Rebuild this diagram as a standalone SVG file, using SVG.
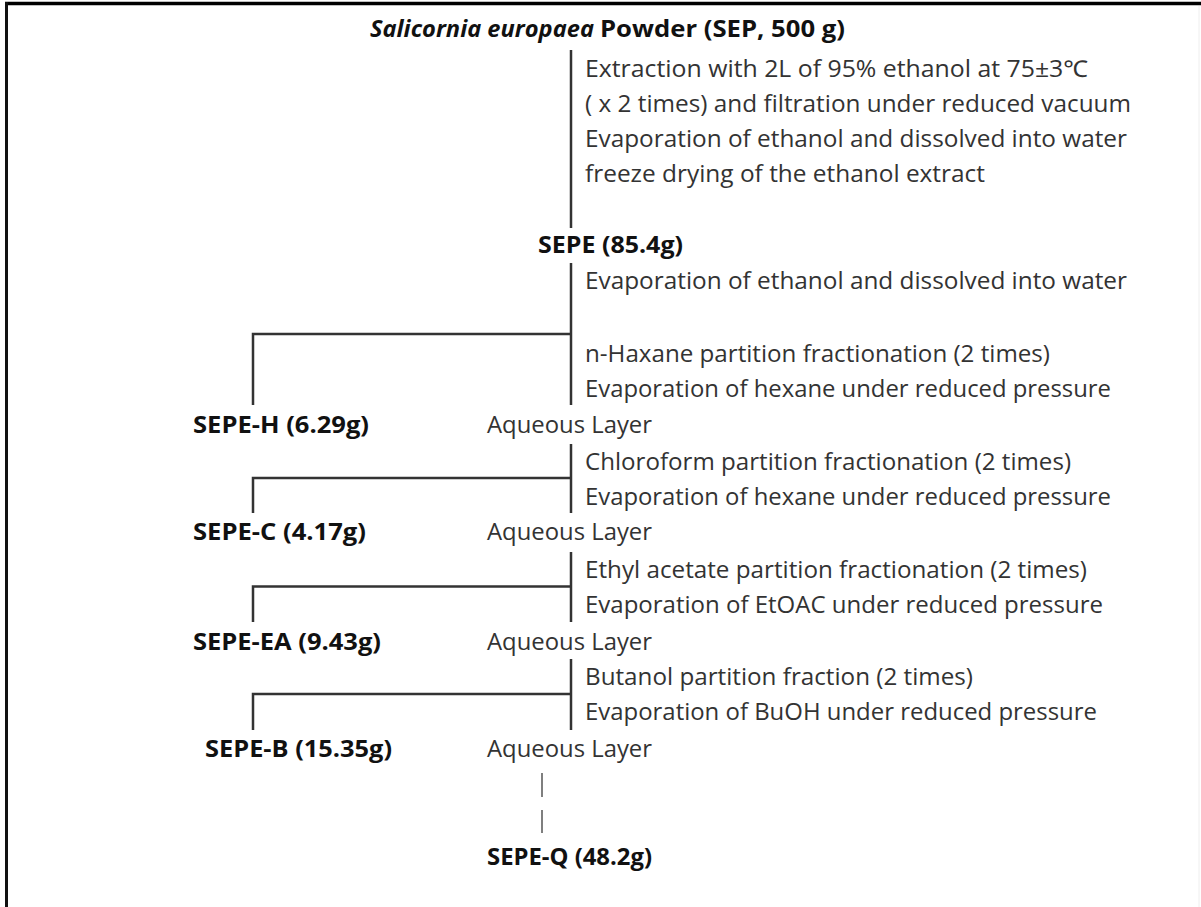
<svg xmlns="http://www.w3.org/2000/svg" width="1201" height="907" viewBox="0 0 1201 907">
<style>
  .t { font-family: "Open Sans", "Noto Sans", "Noto Sans CJK KR", sans-serif; font-size: 23px; fill: #333; }
  .b { font-family: "Open Sans", "Noto Sans", "Noto Sans CJK KR", sans-serif; font-size: 24px; font-weight: bold; fill: #111; }
  .ln { stroke: #333; stroke-width: 2.5; fill: none; }
  .dash { stroke: #555; stroke-width: 1.5; fill: none; }
</style>
<rect x="0" y="0" width="1201" height="907" fill="#fff"/>
<g id="frame">
  <line x1="5" y1="3.5" x2="1201" y2="3.5" stroke="#000" stroke-width="3.5"/>
  <line x1="6.5" y1="2" x2="6.5" y2="907" stroke="#111" stroke-width="3"/>
  <line x1="1199" y1="6" x2="1199" y2="907" stroke="#eee" stroke-width="1"/>
</g>
<g id="connectors">
  <line class="ln" x1="571" y1="50" x2="571" y2="228"/>
  <line class="ln" x1="571" y1="263" x2="571" y2="405"/>
  <path class="ln" d="M571 334 H253 V405"/>
  <line class="ln" x1="571" y1="444" x2="571" y2="513"/>
  <path class="ln" d="M571 478 H253 V513"/>
  <line class="ln" x1="571" y1="552" x2="571" y2="622"/>
  <path class="ln" d="M571 586.5 H253 V622"/>
  <line class="ln" x1="571" y1="659" x2="571" y2="730"/>
  <path class="ln" d="M571 694 H253 V730"/>
  <line class="dash" x1="542" y1="773" x2="542" y2="797"/>
  <line class="dash" x1="542" y1="810" x2="542" y2="833"/>
</g>
<g id="node-SEP">
  <text x="370" y="37" class="b" font-style="italic" textLength="224" lengthAdjust="spacingAndGlyphs">Salicornia europaea</text>
  <text x="600" y="37" class="b" textLength="245" lengthAdjust="spacingAndGlyphs">Powder (SEP, 500 g)</text>
</g>
<g id="step-extraction">
  <text x="585" y="77" class="t" textLength="503" lengthAdjust="spacingAndGlyphs">Extraction with 2L of 95% ethanol at 75±3℃</text>
  <text x="585" y="112" class="t" textLength="546" lengthAdjust="spacingAndGlyphs">( x 2 times) and filtration under reduced vacuum</text>
  <text x="585" y="147" class="t" textLength="542" lengthAdjust="spacingAndGlyphs">Evaporation of ethanol and dissolved into water</text>
  <text x="585" y="182" class="t" textLength="400" lengthAdjust="spacingAndGlyphs">freeze drying of the ethanol extract</text>
</g>
<g id="node-SEPE">
  <text x="538" y="253" class="b" textLength="145" lengthAdjust="spacingAndGlyphs">SEPE (85.4g)</text>
</g>
<g id="step-hexane">
  <text x="585" y="289" class="t" textLength="542" lengthAdjust="spacingAndGlyphs">Evaporation of ethanol and dissolved into water</text>
  <text x="585" y="362" class="t" textLength="465" lengthAdjust="spacingAndGlyphs">n-Haxane partition fractionation (2 times)</text>
  <text x="585" y="397" class="t" textLength="526" lengthAdjust="spacingAndGlyphs">Evaporation of hexane under reduced pressure</text>
</g>
<g id="node-SEPE-H">
  <text x="193" y="433" class="b" textLength="176" lengthAdjust="spacingAndGlyphs">SEPE-H (6.29g)</text>
</g>
<g id="node-aq1">
  <text x="487" y="433" class="t" textLength="165" lengthAdjust="spacingAndGlyphs">Aqueous Layer</text>
</g>
<g id="step-chloroform">
  <text x="585" y="470" class="t" textLength="486" lengthAdjust="spacingAndGlyphs">Chloroform partition fractionation (2 times)</text>
  <text x="585" y="505" class="t" textLength="526" lengthAdjust="spacingAndGlyphs">Evaporation of hexane under reduced pressure</text>
</g>
<g id="node-SEPE-C">
  <text x="193" y="540" class="b" textLength="173" lengthAdjust="spacingAndGlyphs">SEPE-C (4.17g)</text>
</g>
<g id="node-aq2">
  <text x="487" y="540" class="t" textLength="165" lengthAdjust="spacingAndGlyphs">Aqueous Layer</text>
</g>
<g id="step-ethylacetate">
  <text x="585" y="578" class="t" textLength="502" lengthAdjust="spacingAndGlyphs">Ethyl acetate partition fractionation (2 times)</text>
  <text x="585" y="613" class="t" textLength="518" lengthAdjust="spacingAndGlyphs">Evaporation of EtOAC under reduced pressure</text>
</g>
<g id="node-SEPE-EA">
  <text x="193" y="650" class="b" textLength="188" lengthAdjust="spacingAndGlyphs">SEPE-EA (9.43g)</text>
</g>
<g id="node-aq3">
  <text x="487" y="650" class="t" textLength="165" lengthAdjust="spacingAndGlyphs">Aqueous Layer</text>
</g>
<g id="step-butanol">
  <text x="585" y="685" class="t" textLength="388" lengthAdjust="spacingAndGlyphs">Butanol partition fraction (2 times)</text>
  <text x="585" y="720" class="t" textLength="512" lengthAdjust="spacingAndGlyphs">Evaporation of BuOH under reduced pressure</text>
</g>
<g id="node-SEPE-B">
  <text x="205" y="757" class="b" textLength="187" lengthAdjust="spacingAndGlyphs">SEPE-B (15.35g)</text>
</g>
<g id="node-aq4">
  <text x="487" y="757" class="t" textLength="165" lengthAdjust="spacingAndGlyphs">Aqueous Layer</text>
</g>
<g id="node-SEPE-Q">
  <text x="487" y="865" class="b" textLength="165" lengthAdjust="spacingAndGlyphs">SEPE-Q (48.2g)</text>
</g>
</svg>
